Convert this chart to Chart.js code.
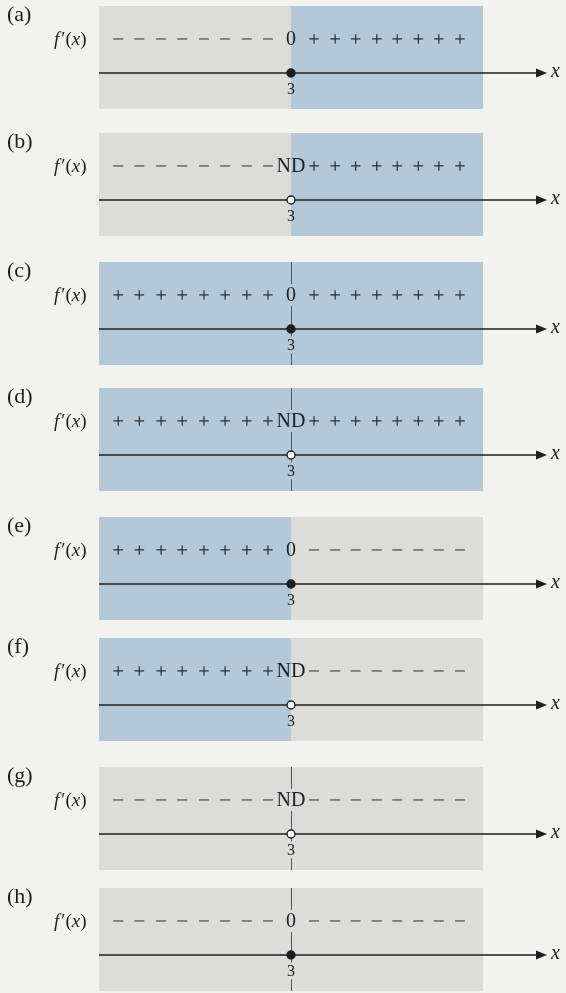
<!DOCTYPE html>
<html>
<head>
<meta charset="utf-8">
<script src="https://cdn.jsdelivr.net/npm/chart.js@4/dist/chart.umd.min.js"></script>
<style>
  html, body { margin: 0; padding: 0; background: #f2f2ef; }
  #wrap { position: relative; width: 566px; height: 993px; overflow: hidden; }
  .panel { position: absolute; left: 0; width: 566px; }
</style>
</head>
<body>
<div id="wrap"></div>
<script>
// sign charts of f'(x) around the critical value x = 3
const panelIds = ["(a)", "(b)", "(c)", "(d)", "(e)", "(f)", "(g)", "(h)"];
const leftSigns = ["-", "-", "+", "+", "+", "+", "-", "-"];
const rightSigns = ["+", "+", "+", "+", "-", "-", "-", "-"];
const centerLabels = ["0", "ND", "0", "ND", "0", "ND", "ND", "0"];
const critValue = 3;
const critTickLabel = "3";
const signXLeft = [0.30, 0.63, 0.97, 1.30, 1.64, 1.97, 2.31, 2.64];
const signXRight = [3.36, 3.69, 4.01, 4.34, 4.66, 4.99, 5.31, 5.64];

// layout (pixels) — kept apart from the data
const rectTops = [6, 133, 262, 388, 517, 638, 767, 888];
const RECT_H = 103, PAD_TOP = 12, PAD_BOT = 2;
const X_MIN = 0, X_MAX = 7, SHADE_END = 6;
const ROW_Y = 0.68, AXIS_Y = 0.35, TICK_Y = 0.20;
const BLUE = "#b3c9da", GRAY = "#dcdcdb";
const INK = "#1e1e1e";

const shadeFor = s => (s === "+" ? BLUE : GRAY);

const signChartPlugin = {
  id: "signChart",
  beforeDatasetsDraw(chart, args, opts) {
    const { ctx, scales: { x, y } } = chart;
    const top = y.getPixelForValue(1), bot = y.getPixelForValue(0);
    const x0 = x.getPixelForValue(X_MIN), xc = x.getPixelForValue(critValue), x1 = x.getPixelForValue(SHADE_END);
    ctx.save();
    ctx.fillStyle = shadeFor(opts.left);
    ctx.fillRect(x0, top, xc - x0, bot - top);
    ctx.fillStyle = shadeFor(opts.right);
    ctx.fillRect(xc, top, x1 - xc, bot - top);
    // thin divider when both sides share a colour
    if (opts.left === opts.right) {
      const ry = y.getPixelForValue(ROW_Y), ty = y.getPixelForValue(TICK_Y);
      ctx.strokeStyle = "#555";
      ctx.lineWidth = 1;
      ctx.beginPath();
      ctx.moveTo(xc + 0.5, top); ctx.lineTo(xc + 0.5, ry - 11);
      ctx.moveTo(xc + 0.5, ry + 11); ctx.lineTo(xc + 0.5, ty - 8);
      ctx.moveTo(xc + 0.5, ty + 9); ctx.lineTo(xc + 0.5, bot);
      ctx.stroke();
    }
    ctx.restore();
  },
  afterDatasetsDraw(chart, args, opts) {
    const { ctx, scales: { x, y } } = chart;
    const top = y.getPixelForValue(1);
    const xc = x.getPixelForValue(critValue);
    const ry = y.getPixelForValue(ROW_Y), ay = y.getPixelForValue(AXIS_Y), ty = y.getPixelForValue(TICK_Y);
    const tip = x.getPixelForValue(X_MAX);
    ctx.save();
    ctx.fillStyle = INK;
    ctx.textBaseline = "middle";

    // center value
    ctx.textAlign = "center";
    ctx.font = "20px 'Liberation Serif'";
    ctx.fillText(opts.center, xc, ry + 1);
    ctx.font = "16px 'Liberation Serif'";
    ctx.fillText(critTickLabel, xc, ty + 1);

    // arrow head + x
    ctx.beginPath();
    ctx.moveTo(tip, ay);
    ctx.lineTo(tip - 11, ay - 4.5);
    ctx.lineTo(tip - 11, ay + 4.5);
    ctx.closePath();
    ctx.fill();
    ctx.textAlign = "left";
    ctx.font = "italic 20px 'Liberation Serif'";
    ctx.fillText("x", tip + 4, ay - 1);

    // panel id
    ctx.font = "22px 'Liberation Serif'";
    ctx.fillText(opts.id, 7, top + 9);

    // f'(x)
    let px = 54;
    const parts = [["f", "italic"], ["\u2032(", ""], ["x", "italic"], [")", ""]];
    parts.forEach(([t, st]) => {
      ctx.font = (st ? st + " " : "") + "19px 'Liberation Serif'";
      ctx.fillText(t, px, ry + 1);
      px += ctx.measureText(t).width + (t === "f" ? 2 : 0);
    });
    ctx.restore();
  }
};

function signDataset(xs, sign) {
  return {
    type: "scatter",
    data: xs.map(v => ({ x: v, y: ROW_Y })),
    pointStyle: sign === "+" ? "cross" : "line",
    pointRadius: sign === "+" ? 4.8 : 5,
    borderColor: sign === "+" ? "#2e2e2e" : "#4a4a45",
    borderWidth: 1.2,
    showLine: false,
    order: 1,
    clip: false
  };
}

const wrap = document.getElementById("wrap");
panelIds.forEach((id, i) => {
  const div = document.createElement("div");
  div.className = "panel";
  div.style.top = (rectTops[i] - PAD_TOP) + "px";
  const canvas = document.createElement("canvas");
  canvas.width = 566;
  canvas.height = PAD_TOP + RECT_H + PAD_BOT;
  div.appendChild(canvas);
  wrap.appendChild(div);

  const open = centerLabels[i] === "ND";
  new Chart(canvas, {
    data: {
      datasets: [
        {
          type: "scatter",
          data: [{ x: critValue, y: AXIS_Y }],
          pointStyle: "circle",
          pointRadius: 4,
          backgroundColor: open ? "#ffffff" : INK,
          borderColor: INK,
          borderWidth: 1.4,
          order: 0,
          clip: false
        },
        signDataset(signXLeft, leftSigns[i]),
        signDataset(signXRight, rightSigns[i]),
        {
          type: "line",
          data: [{ x: X_MIN, y: AXIS_Y }, { x: X_MAX - 0.12, y: AXIS_Y }],
          borderColor: INK,
          borderWidth: 1.6,
          pointRadius: 0,
          order: 2,
          clip: false
        }
      ]
    },
    options: {
      responsive: false,
      animation: false,
      devicePixelRatio: 1,
      events: [],
      layout: { autoPadding: false, padding: { left: 99, right: 19, top: PAD_TOP, bottom: PAD_BOT } },
      scales: {
        x: { type: "linear", min: X_MIN, max: X_MAX, display: false },
        y: { type: "linear", min: 0, max: 1, display: false }
      },
      plugins: {
        legend: { display: false },
        tooltip: { enabled: false },
        signChart: { id, left: leftSigns[i], right: rightSigns[i], center: centerLabels[i] }
      }
    },
    plugins: [signChartPlugin]
  });
});
</script>
</body>
</html>
